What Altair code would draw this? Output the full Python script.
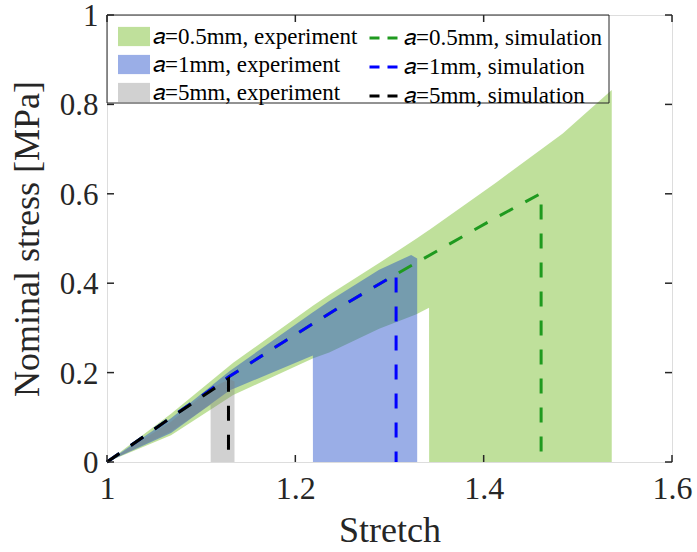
import altair as alt
import pandas as pd

# ---------------- data ----------------
# experiment envelopes (upper / lower bound of the measured curves)
g_x = [1.0, 1.068, 1.134, 1.219, 1.236, 1.289, 1.328, 1.342, 1.3421, 1.413, 1.484, 1.536]
g_up = [0.0, 0.108, 0.222, 0.350, 0.374, 0.445, 0.499, 0.519, 0.519, 0.625, 0.735, 0.832]
g_lo = [0.0, 0.060, 0.150, 0.232, 0.245, 0.298, 0.330, 0.345, 0.0, 0.0, 0.0, 0.0]

b_x = [1.0, 1.068, 1.130, 1.2186, 1.2187, 1.236, 1.289, 1.323, 1.3294]
b_up = [0.0, 0.098, 0.203, 0.335, 0.335, 0.360, 0.430, 0.463, 0.455]
b_lo = [0.0, 0.065, 0.160, 0.238, 0.0, 0.0, 0.0, 0.0, 0.0]

k_x = [1.0, 1.068, 1.110, 1.1101, 1.130, 1.1354]
k_up = [0.0, 0.090, 0.165, 0.165, 0.185, 0.180]
k_lo = [0.0, 0.068, 0.128, 0.0, 0.0, 0.0]

# simulations
sg_x = [1.0, 1.065, 1.129, 1.190, 1.246, 1.307, 1.363, 1.410, 1.461, 1.461]
sg_y = [0.0, 0.095, 0.190, 0.272, 0.345, 0.420, 0.487, 0.543, 0.601, 0.0]
sb_x = [1.0, 1.065, 1.129, 1.190, 1.246, 1.307, 1.307]
sb_y = [0.0, 0.095, 0.190, 0.272, 0.345, 0.420, 0.0]
sk_x = [1.0, 1.065, 1.129, 1.129]
sk_y = [0.0, 0.095, 0.186, 0.0]

exp_names = ["𝑎=0.5mm, experiment", "𝑎=1mm, experiment", "𝑎=5mm, experiment"]
sim_names = ["𝑎=0.5mm, simulation", "𝑎=1mm, simulation", "𝑎=5mm, simulation"]
exp_colors = ["#7fc137", "#1544c8", "#808080"]
exp_opac = [0.5, 0.36, 0.4]
sim_colors = ["#1f9a1f", "#0000ff", "#000000"]

x_ticks = [1, 1.2, 1.4, 1.6]
y_ticks = [0, 0.2, 0.4, 0.6, 0.8, 1]

FONT = "Liberation Serif"
W, H = 565, 447

# ---------------- tables ----------------
def exp_table(xs, ups, los, name):
    return pd.DataFrame({"x": xs, "up": ups, "lo": los, "exp": name})

def sim_table(xs, ys, name):
    return pd.DataFrame({"x": xs, "y": ys, "sim": name, "idx": list(range(len(xs)))})

exp_tables = [exp_table(g_x, g_up, g_lo, exp_names[0]),
              exp_table(b_x, b_up, b_lo, exp_names[1]),
              exp_table(k_x, k_up, k_lo, exp_names[2])]
sim_tables = [sim_table(sg_x, sg_y, sim_names[0]),
              sim_table(sb_x, sb_y, sim_names[1]),
              sim_table(sk_x, sk_y, sim_names[2])]

xscale = alt.Scale(domain=[1, 1.6], nice=False, zero=False)
yscale = alt.Scale(domain=[0, 1], nice=False)

fill_scale = alt.Scale(domain=exp_names, range=exp_colors)
op_scale = alt.Scale(domain=exp_names, range=exp_opac)
stroke_scale = alt.Scale(domain=sim_names, range=sim_colors)

xaxis = alt.Axis(values=x_ticks, format="~g", title="Stretch", grid=False, domain=False,
                 ticks=False, labelFont=FONT, labelFontSize=32, labelPadding=11,
                 labelFlush=False, labelColor="#262626", titleFont=FONT, titleFontSize=36,
                 titleFontWeight="normal", titleColor="#262626", titlePadding=9)
yaxis = alt.Axis(values=y_ticks, format="~g", title="Nominal stress [MPa]", grid=False,
                 domain=False, ticks=False, labelFont=FONT, labelFontSize=31, labelPadding=9,
                 labelOffset=1.5, labelFlush=False, labelColor="#262626", titleFont=FONT,
                 titleFontSize=36, titleFontWeight="normal", titleColor="#262626",
                 titlePadding=13)

exp_legend = alt.Legend(title=None, orient="none", legendX=11, legendY=5.5,
                        symbolType="M-1,-0.6H1V0.6H-1Z", symbolSize=1024,
                        symbolStrokeWidth=0, labelFont=FONT, labelFontSize=23,
                        labelLimit=0, labelColor="#000000", labelOffset=3,
                        rowPadding=-5.5, padding=0)
sim_legend = alt.Legend(title=None, orient="none", legendX=261, legendY=6.5,
                        symbolType="stroke", symbolSize=900, symbolStrokeWidth=3,
                        symbolDash=[10, 8], labelFont=FONT, labelFontSize=23,
                        labelLimit=0, labelColor="#000000", labelOffset=3,
                        rowPadding=-3.5, padding=0)

X = lambda f: alt.X(f, scale=xscale, axis=xaxis)
Y = lambda f: alt.Y(f, scale=yscale, axis=yaxis)

layers = []
for t in exp_tables:
    layers.append(
        alt.Chart(t).mark_area(interpolate="linear").encode(
            x=X("x:Q"),
            y=Y("up:Q"),
            y2="lo:Q",
            fill=alt.Fill("exp:N", scale=fill_scale, legend=exp_legend),
            opacity=alt.Opacity("exp:N", scale=op_scale, legend=exp_legend),
        )
    )
for t in sim_tables:
    layers.append(
        alt.Chart(t).mark_line(strokeWidth=3, strokeDash=[15, 14]).encode(
            x=X("x:Q"),
            y=Y("y:Q"),
            stroke=alt.Stroke("sim:N", scale=stroke_scale, legend=sim_legend),
            order="idx:Q",
        )
    )

# inward tick marks on all four sides
tx = pd.DataFrame({"t": x_ticks})
ty = pd.DataFrame({"t": y_ticks})
tick_style = dict(color="#262626", strokeWidth=1.5)
layers.append(alt.Chart(tx).mark_rule(**tick_style).encode(
    x=X("t:Q"), y=alt.value(H), y2=alt.value(H - 7)))
layers.append(alt.Chart(tx).mark_rule(**tick_style).encode(
    x=X("t:Q"), y=alt.value(0), y2=alt.value(7)))
layers.append(alt.Chart(ty).mark_rule(**tick_style).encode(
    y=Y("t:Q"), x=alt.value(0), x2=alt.value(7)))
layers.append(alt.Chart(ty).mark_rule(**tick_style).encode(
    y=Y("t:Q"), x=alt.value(W), x2=alt.value(W - 7)))

# legend box
box = pd.DataFrame({"k": [0]})
layers.append(alt.Chart(box).mark_rect(fill="white", fillOpacity=0, stroke="#262626",
                                       strokeWidth=1).encode(
    x=alt.value(0), x2=alt.value(502), y=alt.value(0), y2=alt.value(88)))

chart = alt.layer(*layers).properties(
    width=W, height=H,
    autosize=alt.AutoSizeParams(type="none"),
    padding={"left": 107, "top": 15, "right": 25, "bottom": 90},
).configure_view(stroke="#262626", strokeWidth=1.5).configure(background="white")

chart.save("out.html", embed_options={"renderer": "svg", "actions": False})
